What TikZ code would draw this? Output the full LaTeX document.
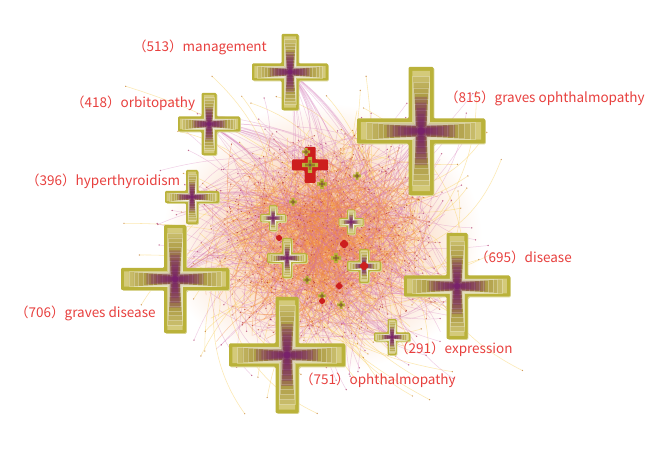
\documentclass[tikz,border=0pt]{standalone}
\usepackage{fontspec}
\newfontfamily\lblfont{Noto Sans CJK SC}
\definecolor{olv}{RGB}{186,178,58}
\definecolor{olvlight}{RGB}{212,202,122}
\definecolor{olvdark}{RGB}{150,128,38}
\definecolor{plum}{RGB}{120,30,110}
\definecolor{lblred}{RGB}{232,64,62}
\definecolor{epink}{RGB}{210,110,180}
\definecolor{eorange}{RGB}{242,140,65}
\definecolor{eyellow}{RGB}{250,210,100}
\definecolor{hotred}{RGB}{205,30,30}
\newcommand\crosspath[4]{({#1-#4},{#2-#3}) -- ({#1+#4},{#2-#3}) -- ({#1+#4},{#2-#4}) -- ({#1+#3},{#2-#4}) -- ({#1+#3},{#2+#4}) -- ({#1+#4},{#2+#4}) -- ({#1+#4},{#2+#3}) -- ({#1-#4},{#2+#3}) -- ({#1-#4},{#2+#4}) -- ({#1-#3},{#2+#4}) -- ({#1-#3},{#2-#4}) -- ({#1-#4},{#2-#4}) -- cycle}
\newcommand\kwcross[4]{%
 \fill[olv!55!white,rounded corners=1.5pt] \crosspath{#1}{#2}{#3+0.9}{#4+0.9};
 \fill[olv,rounded corners=1.2pt] \crosspath{#1}{#2}{#3}{#4};
 \fill[olvlight] \crosspath{#1}{#2}{0.94*#3}{0.7*#4};
 \foreach \s in {1,...,10}{%
   \pgfmathsetmacro\LL{#3*(0.94-0.088*\s)}
   \pgfmathsetmacro\WW{#4*(0.7-0.03*\s)}
   \filldraw[fill=olvdark,draw=white,draw opacity=0.28,line width=0.35pt,fill opacity=0.2] \crosspath{#1}{#2}{\LL}{\WW};
 }
 \foreach \s in {1,...,6}{%
   \pgfmathsetmacro\LL{#3*(0.62-0.088*\s)}
   \pgfmathsetmacro\WW{#4*(0.55-0.07*\s)}
   \fill[plum,opacity=0.28] \crosspath{#1}{#2}{\LL}{\WW};
 }
 \fill[plum,opacity=0.75] (#1,#2) circle ({0.3*#4});
}
\newcommand\smallcross[4]{%
 \fill[olv] \crosspath{#1}{#2}{#3}{#4};
 \fill[olvdark] \crosspath{#1}{#2}{0.6*#3}{0.6*#4};
 \fill[plum,opacity=0.8] (#1,#2) circle ({0.5*#4});
}
\newcommand\redcross[4]{%
 \fill[hotred,rounded corners=1pt] \crosspath{#1}{#2}{#3}{#4};
}
\tikzset{
 lbl/.style={text=lblred,font=\lblfont\fontsize{13.5}{15}\selectfont,anchor=west,inner sep=0pt},
 epk/.style={draw=epink,opacity=0.33,line width=0.5pt},
 eor/.style={draw=eorange,opacity=0.4,line width=0.55pt},
 eye/.style={draw=eyellow,opacity=0.5,line width=0.55pt},
 ehub/.style={draw=epink,opacity=0.3,line width=0.5pt}
}
\begin{document}
\begin{tikzpicture}[x=1pt,y=-1pt]
\useasboundingbox[fill=white] (0,0) rectangle (667,462);
\shade[inner color=eorange!62!white,outer color=white] (322,238) ellipse (160 and 135);
\pgfmathsetseed{11}
% yellow long curves
\foreach \i in {1,...,170}{
  \pgfmathsetmacro\xa{330+110*(rand+rand)}
  \pgfmathsetmacro\ya{240+100*(rand+rand)}
  \pgfmathsetmacro\xb{330+70*(rand+rand)}
  \pgfmathsetmacro\yb{240+70*(rand+rand)}
  \pgfmathsetmacro\bb{15+30*rnd}
  \draw[eye] (\xa,\ya) to[bend left=\bb] (\xb,\yb);
  \fill[orange!70!black,opacity=0.6] (\xa,\ya) circle (0.7);
}
% pink curves
\foreach \i in {1,...,260}{
  \pgfmathsetmacro\xa{325+92*(rand+rand)}
  \pgfmathsetmacro\ya{238+85*(rand+rand)}
  \pgfmathsetmacro\xb{325+70*(rand+rand)}
  \pgfmathsetmacro\yb{238+60*(rand+rand)}
  \pgfmathsetmacro\bb{10+30*rnd}
  \draw[epk] (\xa,\ya) to[bend left=\bb] (\xb,\yb);
  \fill[plum!70!red,opacity=0.6] (\xa,\ya) circle (0.75);
}
% orange dense curves
\foreach \i in {1,...,450}{
  \pgfmathsetmacro\xa{322+62*(rand+rand)}
  \pgfmathsetmacro\ya{235+57*(rand+rand)}
  \pgfmathsetmacro\xb{322+62*(rand+rand)}
  \pgfmathsetmacro\yb{235+57*(rand+rand)}
  \pgfmathsetmacro\bb{10+25*rnd}
  \draw[eor] (\xa,\ya) to[bend left=\bb] (\xb,\yb);
  \fill[red!60!black,opacity=0.55] (\xb,\yb) circle (0.7);
}
% hub edges
\foreach \hx/\hy in {290/72,209/124,421/131,192/197,175/279,287/355,457/286,392/337}{
  \foreach \j in {1,...,24}{
    \pgfmathsetmacro\xb{325+55*(rand+rand)}
    \pgfmathsetmacro\yb{238+50*(rand+rand)}
    \pgfmathsetmacro\bb{10+25*rnd}
    \draw[ehub] (\hx,\hy) to[bend left=\bb] (\xb,\yb);
  }
}
% small inner crosses
\redcross{310}{165}{18}{5.5}
\smallcross{310}{165}{8}{2.2}
\kwcross{273}{218}{13}{4}
\kwcross{351}{222}{12.5}{4}
\kwcross{287}{258}{20}{5}
\kwcross{364}{266}{17}{5}
\redcross{364}{266}{4}{2}
\smallcross{322}{184}{5}{1.8}
\smallcross{336}{258}{5}{1.8}
\smallcross{322}{296}{4}{1.5}
\smallcross{306}{152}{4}{1.5}
\smallcross{341}{305}{4}{1.5}
\smallcross{307}{280}{4}{1.5}
\smallcross{293}{202}{4}{1.5}
\redcross{344}{244}{4}{2}
\redcross{279}{238}{3}{1.5}
\redcross{339}{286}{3.5}{1.5}
\redcross{322}{301}{3}{1.5}
\smallcross{357}{176}{4}{1.5}
% main keyword crosses
\kwcross{290}{72}{38}{8.5}
\kwcross{209}{124}{31}{7.5}
\kwcross{421}{131}{64}{12.5}
\kwcross{192}{197}{27}{6}
\kwcross{175}{279}{54}{11}
\kwcross{287}{355}{58}{11.5}
\kwcross{457}{286}{53}{10.5}
\kwcross{392}{337}{18}{4.5}
% labels
\node[lbl] (lmgmt) at (133,47) {（513）management};
\node[lbl] (lorb) at (71,103) {（418）orbitopathy};
\node[lbl] (lgo) at (445,98) {（815）graves ophthalmopathy};
\node[lbl] (lhyp) at (26,181) {（396）hyperthyroidism};
\node[lbl] (lgd) at (15,313) {（706）graves disease};
\node[lbl] (ldis) at (475,257) {（695）disease};
\node[lbl] (lexp) at (395,349) {（291）expression};
\node[lbl] (loph) at (300,380) {（751）ophthalmopathy};
\end{tikzpicture}
\end{document}
